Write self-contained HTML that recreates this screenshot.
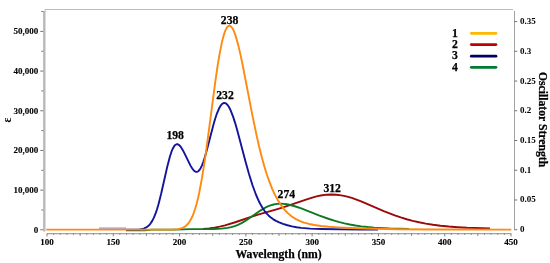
<!DOCTYPE html>
<html><head><meta charset="utf-8"><style>
html,body{margin:0;padding:0;background:#fff;}
body{width:550px;height:263px;overflow:hidden;font-family:"Liberation Serif",serif;}
svg{display:block;filter:blur(0.3px);}
</style></head><body>
<svg width="550" height="263" viewBox="0 0 550 263">
<path d="M45,11.5 V9.5 H513" fill="none" stroke="#bcbcbc" stroke-width="1"/>
<line x1="44.3" y1="11" x2="44.3" y2="231.5" stroke="#b9b9b9" stroke-width="2.4"/>
<line x1="40.3" y1="229.80" x2="43.2" y2="229.80" stroke="#707070" stroke-width="1"/>
<line x1="41.3" y1="209.96" x2="43.2" y2="209.96" stroke="#707070" stroke-width="1"/>
<line x1="40.3" y1="190.12" x2="43.2" y2="190.12" stroke="#707070" stroke-width="1"/>
<line x1="41.3" y1="170.28" x2="43.2" y2="170.28" stroke="#707070" stroke-width="1"/>
<line x1="40.3" y1="150.44" x2="43.2" y2="150.44" stroke="#707070" stroke-width="1"/>
<line x1="41.3" y1="130.60" x2="43.2" y2="130.60" stroke="#707070" stroke-width="1"/>
<line x1="40.3" y1="110.76" x2="43.2" y2="110.76" stroke="#707070" stroke-width="1"/>
<line x1="41.3" y1="90.92" x2="43.2" y2="90.92" stroke="#707070" stroke-width="1"/>
<line x1="40.3" y1="71.08" x2="43.2" y2="71.08" stroke="#707070" stroke-width="1"/>
<line x1="41.3" y1="51.24" x2="43.2" y2="51.24" stroke="#707070" stroke-width="1"/>
<line x1="40.3" y1="31.40" x2="43.2" y2="31.40" stroke="#707070" stroke-width="1"/>
<line x1="41.3" y1="11.56" x2="43.2" y2="11.56" stroke="#707070" stroke-width="1"/>
<text x="38.3" y="232.80" text-anchor="end" font-size="9" font-family="Liberation Serif" font-weight="bold" stroke="#000" stroke-width="0.12">0</text>
<text x="38.3" y="193.12" text-anchor="end" font-size="9" font-family="Liberation Serif" font-weight="bold" stroke="#000" stroke-width="0.12">10,000</text>
<text x="38.3" y="153.44" text-anchor="end" font-size="9" font-family="Liberation Serif" font-weight="bold" stroke="#000" stroke-width="0.12">20,000</text>
<text x="38.3" y="113.76" text-anchor="end" font-size="9" font-family="Liberation Serif" font-weight="bold" stroke="#000" stroke-width="0.12">30,000</text>
<text x="38.3" y="74.08" text-anchor="end" font-size="9" font-family="Liberation Serif" font-weight="bold" stroke="#000" stroke-width="0.12">40,000</text>
<text x="38.3" y="34.40" text-anchor="end" font-size="9" font-family="Liberation Serif" font-weight="bold" stroke="#000" stroke-width="0.12">50,000</text>
<line x1="514.5" y1="11" x2="514.5" y2="230.2" stroke="#a2a2a2" stroke-width="1"/>
<line x1="514.5" y1="229.70" x2="517.2" y2="229.70" stroke="#707070" stroke-width="1"/>
<text x="519.9" y="232.20" font-size="9" font-family="Liberation Serif" font-weight="bold">0</text>
<line x1="514.5" y1="199.97" x2="517.2" y2="199.97" stroke="#707070" stroke-width="1"/>
<text x="519.9" y="202.47" font-size="9" font-family="Liberation Serif" font-weight="bold">0.05</text>
<line x1="514.5" y1="170.24" x2="517.2" y2="170.24" stroke="#707070" stroke-width="1"/>
<text x="519.9" y="172.74" font-size="9" font-family="Liberation Serif" font-weight="bold">0.1</text>
<line x1="514.5" y1="140.51" x2="517.2" y2="140.51" stroke="#707070" stroke-width="1"/>
<text x="519.9" y="143.01" font-size="9" font-family="Liberation Serif" font-weight="bold">0.15</text>
<line x1="514.5" y1="110.78" x2="517.2" y2="110.78" stroke="#707070" stroke-width="1"/>
<text x="519.9" y="113.28" font-size="9" font-family="Liberation Serif" font-weight="bold">0.2</text>
<line x1="514.5" y1="81.05" x2="517.2" y2="81.05" stroke="#707070" stroke-width="1"/>
<text x="519.9" y="83.55" font-size="9" font-family="Liberation Serif" font-weight="bold">0.25</text>
<line x1="514.5" y1="51.32" x2="517.2" y2="51.32" stroke="#707070" stroke-width="1"/>
<text x="519.9" y="53.82" font-size="9" font-family="Liberation Serif" font-weight="bold">0.3</text>
<line x1="514.5" y1="21.59" x2="517.2" y2="21.59" stroke="#707070" stroke-width="1"/>
<text x="519.9" y="24.09" font-size="9" font-family="Liberation Serif" font-weight="bold">0.35</text>
<line x1="47" y1="233.7" x2="511.2" y2="233.7" stroke="#8a8a8a" stroke-width="1"/>
<line x1="47.00" y1="233.5" x2="47.00" y2="236.40" stroke="#707070" stroke-width="0.9"/>
<line x1="53.63" y1="233.5" x2="53.63" y2="234.80" stroke="#707070" stroke-width="0.9"/>
<line x1="60.26" y1="233.5" x2="60.26" y2="234.80" stroke="#707070" stroke-width="0.9"/>
<line x1="66.89" y1="233.5" x2="66.89" y2="234.80" stroke="#707070" stroke-width="0.9"/>
<line x1="73.51" y1="233.5" x2="73.51" y2="234.80" stroke="#707070" stroke-width="0.9"/>
<line x1="80.14" y1="233.5" x2="80.14" y2="235.80" stroke="#707070" stroke-width="0.9"/>
<line x1="86.77" y1="233.5" x2="86.77" y2="234.80" stroke="#707070" stroke-width="0.9"/>
<line x1="93.40" y1="233.5" x2="93.40" y2="234.80" stroke="#707070" stroke-width="0.9"/>
<line x1="100.03" y1="233.5" x2="100.03" y2="234.80" stroke="#707070" stroke-width="0.9"/>
<line x1="106.66" y1="233.5" x2="106.66" y2="234.80" stroke="#707070" stroke-width="0.9"/>
<line x1="113.29" y1="233.5" x2="113.29" y2="236.40" stroke="#707070" stroke-width="0.9"/>
<line x1="119.91" y1="233.5" x2="119.91" y2="234.80" stroke="#707070" stroke-width="0.9"/>
<line x1="126.54" y1="233.5" x2="126.54" y2="234.80" stroke="#707070" stroke-width="0.9"/>
<line x1="133.17" y1="233.5" x2="133.17" y2="234.80" stroke="#707070" stroke-width="0.9"/>
<line x1="139.80" y1="233.5" x2="139.80" y2="234.80" stroke="#707070" stroke-width="0.9"/>
<line x1="146.43" y1="233.5" x2="146.43" y2="235.80" stroke="#707070" stroke-width="0.9"/>
<line x1="153.06" y1="233.5" x2="153.06" y2="234.80" stroke="#707070" stroke-width="0.9"/>
<line x1="159.68" y1="233.5" x2="159.68" y2="234.80" stroke="#707070" stroke-width="0.9"/>
<line x1="166.31" y1="233.5" x2="166.31" y2="234.80" stroke="#707070" stroke-width="0.9"/>
<line x1="172.94" y1="233.5" x2="172.94" y2="234.80" stroke="#707070" stroke-width="0.9"/>
<line x1="179.57" y1="233.5" x2="179.57" y2="236.40" stroke="#707070" stroke-width="0.9"/>
<line x1="186.20" y1="233.5" x2="186.20" y2="234.80" stroke="#707070" stroke-width="0.9"/>
<line x1="192.83" y1="233.5" x2="192.83" y2="234.80" stroke="#707070" stroke-width="0.9"/>
<line x1="199.46" y1="233.5" x2="199.46" y2="234.80" stroke="#707070" stroke-width="0.9"/>
<line x1="206.08" y1="233.5" x2="206.08" y2="234.80" stroke="#707070" stroke-width="0.9"/>
<line x1="212.71" y1="233.5" x2="212.71" y2="235.80" stroke="#707070" stroke-width="0.9"/>
<line x1="219.34" y1="233.5" x2="219.34" y2="234.80" stroke="#707070" stroke-width="0.9"/>
<line x1="225.97" y1="233.5" x2="225.97" y2="234.80" stroke="#707070" stroke-width="0.9"/>
<line x1="232.60" y1="233.5" x2="232.60" y2="234.80" stroke="#707070" stroke-width="0.9"/>
<line x1="239.23" y1="233.5" x2="239.23" y2="234.80" stroke="#707070" stroke-width="0.9"/>
<line x1="245.86" y1="233.5" x2="245.86" y2="236.40" stroke="#707070" stroke-width="0.9"/>
<line x1="252.48" y1="233.5" x2="252.48" y2="234.80" stroke="#707070" stroke-width="0.9"/>
<line x1="259.11" y1="233.5" x2="259.11" y2="234.80" stroke="#707070" stroke-width="0.9"/>
<line x1="265.74" y1="233.5" x2="265.74" y2="234.80" stroke="#707070" stroke-width="0.9"/>
<line x1="272.37" y1="233.5" x2="272.37" y2="234.80" stroke="#707070" stroke-width="0.9"/>
<line x1="279.00" y1="233.5" x2="279.00" y2="235.80" stroke="#707070" stroke-width="0.9"/>
<line x1="285.63" y1="233.5" x2="285.63" y2="234.80" stroke="#707070" stroke-width="0.9"/>
<line x1="292.25" y1="233.5" x2="292.25" y2="234.80" stroke="#707070" stroke-width="0.9"/>
<line x1="298.88" y1="233.5" x2="298.88" y2="234.80" stroke="#707070" stroke-width="0.9"/>
<line x1="305.51" y1="233.5" x2="305.51" y2="234.80" stroke="#707070" stroke-width="0.9"/>
<line x1="312.14" y1="233.5" x2="312.14" y2="236.40" stroke="#707070" stroke-width="0.9"/>
<line x1="318.77" y1="233.5" x2="318.77" y2="234.80" stroke="#707070" stroke-width="0.9"/>
<line x1="325.40" y1="233.5" x2="325.40" y2="234.80" stroke="#707070" stroke-width="0.9"/>
<line x1="332.03" y1="233.5" x2="332.03" y2="234.80" stroke="#707070" stroke-width="0.9"/>
<line x1="338.65" y1="233.5" x2="338.65" y2="234.80" stroke="#707070" stroke-width="0.9"/>
<line x1="345.28" y1="233.5" x2="345.28" y2="235.80" stroke="#707070" stroke-width="0.9"/>
<line x1="351.91" y1="233.5" x2="351.91" y2="234.80" stroke="#707070" stroke-width="0.9"/>
<line x1="358.54" y1="233.5" x2="358.54" y2="234.80" stroke="#707070" stroke-width="0.9"/>
<line x1="365.17" y1="233.5" x2="365.17" y2="234.80" stroke="#707070" stroke-width="0.9"/>
<line x1="371.80" y1="233.5" x2="371.80" y2="234.80" stroke="#707070" stroke-width="0.9"/>
<line x1="378.43" y1="233.5" x2="378.43" y2="236.40" stroke="#707070" stroke-width="0.9"/>
<line x1="385.05" y1="233.5" x2="385.05" y2="234.80" stroke="#707070" stroke-width="0.9"/>
<line x1="391.68" y1="233.5" x2="391.68" y2="234.80" stroke="#707070" stroke-width="0.9"/>
<line x1="398.31" y1="233.5" x2="398.31" y2="234.80" stroke="#707070" stroke-width="0.9"/>
<line x1="404.94" y1="233.5" x2="404.94" y2="234.80" stroke="#707070" stroke-width="0.9"/>
<line x1="411.57" y1="233.5" x2="411.57" y2="235.80" stroke="#707070" stroke-width="0.9"/>
<line x1="418.20" y1="233.5" x2="418.20" y2="234.80" stroke="#707070" stroke-width="0.9"/>
<line x1="424.82" y1="233.5" x2="424.82" y2="234.80" stroke="#707070" stroke-width="0.9"/>
<line x1="431.45" y1="233.5" x2="431.45" y2="234.80" stroke="#707070" stroke-width="0.9"/>
<line x1="438.08" y1="233.5" x2="438.08" y2="234.80" stroke="#707070" stroke-width="0.9"/>
<line x1="444.71" y1="233.5" x2="444.71" y2="236.40" stroke="#707070" stroke-width="0.9"/>
<line x1="451.34" y1="233.5" x2="451.34" y2="234.80" stroke="#707070" stroke-width="0.9"/>
<line x1="457.97" y1="233.5" x2="457.97" y2="234.80" stroke="#707070" stroke-width="0.9"/>
<line x1="464.60" y1="233.5" x2="464.60" y2="234.80" stroke="#707070" stroke-width="0.9"/>
<line x1="471.22" y1="233.5" x2="471.22" y2="234.80" stroke="#707070" stroke-width="0.9"/>
<line x1="477.85" y1="233.5" x2="477.85" y2="235.80" stroke="#707070" stroke-width="0.9"/>
<line x1="484.48" y1="233.5" x2="484.48" y2="234.80" stroke="#707070" stroke-width="0.9"/>
<line x1="491.11" y1="233.5" x2="491.11" y2="234.80" stroke="#707070" stroke-width="0.9"/>
<line x1="497.74" y1="233.5" x2="497.74" y2="234.80" stroke="#707070" stroke-width="0.9"/>
<line x1="504.37" y1="233.5" x2="504.37" y2="234.80" stroke="#707070" stroke-width="0.9"/>
<line x1="511.00" y1="233.5" x2="511.00" y2="236.40" stroke="#707070" stroke-width="0.9"/>
<text x="47.00" y="244.8" text-anchor="middle" font-size="9" font-family="Liberation Serif" font-weight="bold" stroke="#000" stroke-width="0.12">100</text>
<text x="113.29" y="244.8" text-anchor="middle" font-size="9" font-family="Liberation Serif" font-weight="bold" stroke="#000" stroke-width="0.12">150</text>
<text x="179.57" y="244.8" text-anchor="middle" font-size="9" font-family="Liberation Serif" font-weight="bold" stroke="#000" stroke-width="0.12">200</text>
<text x="245.86" y="244.8" text-anchor="middle" font-size="9" font-family="Liberation Serif" font-weight="bold" stroke="#000" stroke-width="0.12">250</text>
<text x="312.14" y="244.8" text-anchor="middle" font-size="9" font-family="Liberation Serif" font-weight="bold" stroke="#000" stroke-width="0.12">300</text>
<text x="378.43" y="244.8" text-anchor="middle" font-size="9" font-family="Liberation Serif" font-weight="bold" stroke="#000" stroke-width="0.12">350</text>
<text x="444.71" y="244.8" text-anchor="middle" font-size="9" font-family="Liberation Serif" font-weight="bold" stroke="#000" stroke-width="0.12">400</text>
<text x="511.00" y="244.8" text-anchor="middle" font-size="9" font-family="Liberation Serif" font-weight="bold" stroke="#000" stroke-width="0.12">450</text>
<text x="278.6" y="257.5" text-anchor="middle" font-size="11.7" font-family="Liberation Serif" font-weight="bold" stroke="#000" stroke-width="0.25">Wavelength (nm)</text>
<text transform="translate(539.0,119.6) rotate(90)" text-anchor="middle" font-size="11.7" font-family="Liberation Serif" font-weight="bold" stroke="#000" stroke-width="0.25">Oscillator Strength</text>
<text transform="translate(11.1,120.0) rotate(-90)" text-anchor="middle" font-size="11.7" font-family="Liberation Serif" font-weight="bold">ε</text>
<line x1="99" y1="228.1" x2="126" y2="228.1" stroke="#8c8cd8" stroke-width="1.2"/>
<path d="M203.00,228.95 L209.00,228.37 L214.50,227.59 L219.75,226.59 L225.00,225.31 L235.25,222.25 L251.00,216.90 L258.00,214.65 L278.25,208.81 L285.25,206.68 L292.00,204.44 L306.00,199.54 L312.25,197.56 L317.50,196.19 L322.25,195.26 L327.00,194.68 L331.50,194.50 L336.25,194.69 L341.25,195.33 L346.25,196.37 L351.75,197.92 L356.50,199.55 L361.75,201.58 L383.75,211.01 L394.75,215.31 L400.75,217.37 L406.75,219.22 L412.75,220.83 L419.00,222.29 L425.75,223.61 L433.00,224.76 L440.50,225.72 L448.75,226.53 L457.50,227.18 L467.00,227.68 L490.00,228.36" fill="none" stroke="#9a0a0a" stroke-width="1.9" stroke-linejoin="round"/>
<path d="M126.00,230.20 L145.00,230.20 L152.00,229.60 L176.00,229.60 L190.00,229.10 L214.00,228.99 L221.50,228.65 L227.50,227.92 L231.25,227.14 L234.75,226.09 L238.00,224.83 L241.50,223.13 L244.50,221.42 L247.50,219.51 L260.75,210.32 L264.00,208.37 L267.25,206.72 L270.50,205.41 L273.75,204.48 L277.00,203.92 L280.50,203.71 L283.50,203.84 L286.75,204.26 L290.25,204.98 L294.00,206.00 L301.25,208.47 L319.50,215.60 L329.00,218.99 L334.25,220.65 L339.50,222.12 L344.50,223.36 L349.75,224.47 L355.50,225.50 L361.25,226.33 L367.50,227.05 L374.25,227.64 L389.50,228.45 L409.00,228.89" fill="none" stroke="#0b7a22" stroke-width="1.9" stroke-linejoin="round"/>
<path d="M126.00,229.60 L139.00,229.45 L141.25,229.17 L143.75,228.55 L146.25,227.45 L148.50,225.80 L150.50,223.57 L152.25,220.87 L154.00,217.42 L155.50,213.73 L157.00,209.33 L158.50,204.23 L161.25,193.32 L167.25,166.69 L170.00,156.22 L171.50,151.68 L172.75,148.67 L174.00,146.43 L175.25,144.97 L176.50,144.28 L177.25,144.22 L178.00,144.40 L178.75,144.82 L179.50,145.44 L181.00,147.23 L182.25,149.17 L183.75,151.90 L190.50,165.63 L192.25,168.53 L193.75,170.42 L195.25,171.58 L196.00,171.85 L196.75,171.89 L197.50,171.68 L198.25,171.24 L199.50,169.93 L200.75,167.94 L202.00,165.29 L203.25,162.05 L204.50,158.28 L207.00,149.53 L213.50,124.50 L215.25,118.52 L217.00,113.31 L219.00,108.52 L220.75,105.49 L221.75,104.28 L222.50,103.63 L223.25,103.20 L224.25,102.97 L225.25,103.14 L226.25,103.69 L227.25,104.62 L228.50,106.29 L229.50,108.01 L230.75,110.61 L233.25,117.11 L235.25,123.34 L237.50,131.16 L245.50,161.50 L249.00,174.03 L252.50,185.21 L256.00,194.75 L259.25,202.04 L261.00,205.35 L262.75,208.27 L264.50,210.82 L266.50,213.33 L268.50,215.44 L270.50,217.22 L273.00,219.06 L276.00,220.84 L279.25,222.37 L283.00,223.81 L287.50,225.22 L292.00,226.35 L296.50,227.23 L301.25,227.89 L310.25,228.65 L321.50,229.05 L360.00,229.60 L378.00,229.60" fill="none" stroke="#14149c" stroke-width="1.9" stroke-linejoin="round"/>
<path d="M46.30,229.60 L162.55,229.60 L173.05,229.49 L178.05,229.08 L180.05,228.70 L181.80,228.18 L183.30,227.54 L184.80,226.68 L186.30,225.52 L187.55,224.29 L189.30,222.06 L190.80,219.60 L192.30,216.54 L193.80,212.81 L195.30,208.32 L196.55,203.97 L198.05,197.96 L199.30,192.28 L202.05,177.64 L205.05,158.53 L207.80,138.74 L215.30,81.62 L217.55,66.20 L219.55,54.10 L222.05,41.64 L223.30,36.67 L224.55,32.61 L225.80,29.49 L226.80,27.66 L228.05,26.22 L228.55,25.90 L229.30,25.70 L230.30,25.94 L231.30,26.72 L232.30,28.04 L233.55,30.39 L234.55,32.80 L235.80,36.41 L238.30,45.37 L240.30,53.90 L242.55,64.54 L252.05,113.59 L256.80,136.38 L259.30,147.23 L261.80,157.17 L264.30,166.20 L266.80,174.30 L269.55,182.19 L272.30,189.08 L275.05,195.04 L278.05,200.60 L281.30,205.63 L284.55,209.77 L288.05,213.39 L291.80,216.47 L295.55,218.88 L299.55,220.87 L304.05,222.57 L309.05,223.95 L314.55,225.04 L321.05,225.96 L328.80,226.72 L338.30,227.39 L350.55,228.01 L364.55,228.52 L397.30,229.19 L439.05,229.49 L511.30,229.59" fill="none" stroke="#ff8a10" stroke-width="1.9" stroke-linejoin="round"/>
<text x="229.6" y="24.0" text-anchor="middle" font-size="11.7" font-family="Liberation Serif" font-weight="bold" stroke="#000" stroke-width="0.25">238</text>
<text x="225.0" y="99.4" text-anchor="middle" font-size="11.7" font-family="Liberation Serif" font-weight="bold" stroke="#000" stroke-width="0.25">232</text>
<text x="175.2" y="138.8" text-anchor="middle" font-size="11.7" font-family="Liberation Serif" font-weight="bold" stroke="#000" stroke-width="0.25">198</text>
<text x="286.3" y="197.8" text-anchor="middle" font-size="11.7" font-family="Liberation Serif" font-weight="bold" stroke="#000" stroke-width="0.25">274</text>
<text x="332.2" y="191.9" text-anchor="middle" font-size="11.7" font-family="Liberation Serif" font-weight="bold" stroke="#000" stroke-width="0.25">312</text>
<text x="455" y="36.55" text-anchor="middle" font-size="11.7" font-family="Liberation Serif" font-weight="bold" stroke="#000" stroke-width="0.25">1</text>
<line x1="471.3" y1="33.35" x2="496" y2="33.35" stroke="#ffb800" stroke-width="2.7" stroke-linecap="round"/>
<text x="455" y="47.75" text-anchor="middle" font-size="11.7" font-family="Liberation Serif" font-weight="bold" stroke="#000" stroke-width="0.25">2</text>
<line x1="471.3" y1="44.55" x2="496" y2="44.55" stroke="#c00000" stroke-width="2.7" stroke-linecap="round"/>
<text x="455" y="59.40" text-anchor="middle" font-size="11.7" font-family="Liberation Serif" font-weight="bold" stroke="#000" stroke-width="0.25">3</text>
<line x1="471.3" y1="56.20" x2="496" y2="56.20" stroke="#000060" stroke-width="2.7" stroke-linecap="round"/>
<text x="455" y="70.50" text-anchor="middle" font-size="11.7" font-family="Liberation Serif" font-weight="bold" stroke="#000" stroke-width="0.25">4</text>
<line x1="471.3" y1="67.30" x2="496" y2="67.30" stroke="#007a30" stroke-width="2.7" stroke-linecap="round"/>
</svg>
</body></html>
